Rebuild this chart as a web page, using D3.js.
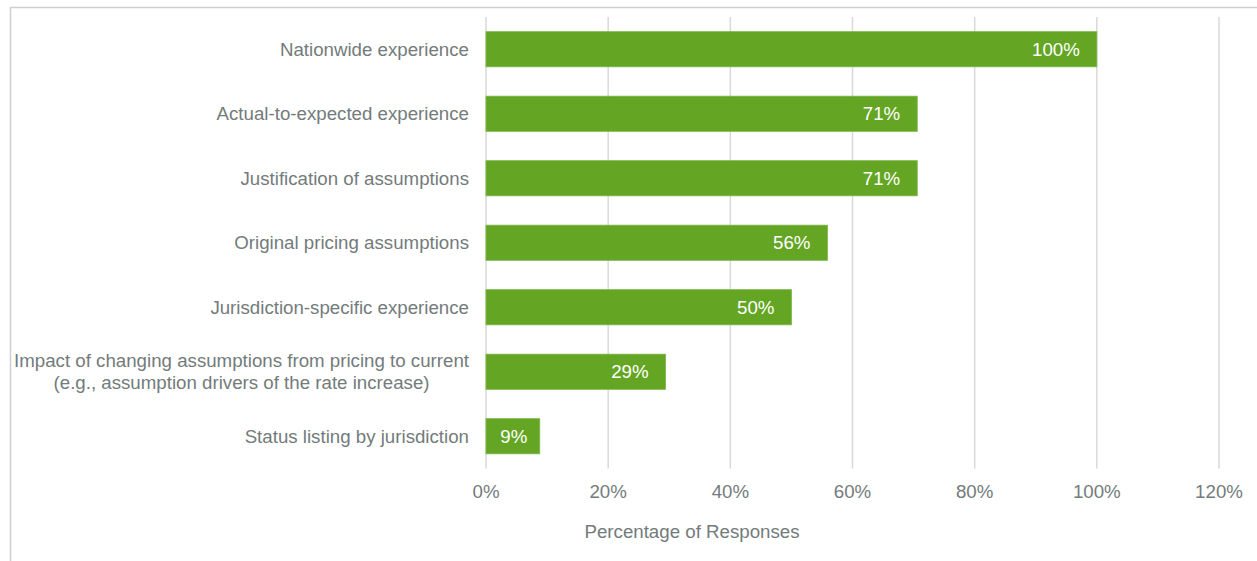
<!DOCTYPE html>
<html>
<head>
<meta charset="utf-8">
<script src="https://cdn.jsdelivr.net/npm/d3@7"></script>
<style>
  html, body { margin: 0; padding: 0; background: #fff; }
  svg { display: block; font-family: "Liberation Sans", Arial, sans-serif; }
</style>
</head>
<body>
<svg id="chart" width="1257" height="561"></svg>
<script>
// Share of responses (n = 34) by information item provided
const categories = [
  ["Nationwide experience"],
  ["Actual-to-expected experience"],
  ["Justification of assumptions"],
  ["Original pricing assumptions"],
  ["Jurisdiction-specific experience"],
  ["Impact of changing assumptions from pricing to current", "(e.g., assumption drivers of the rate increase)"],
  ["Status listing by jurisdiction"]
];
const values = [100, 70.6, 70.6, 55.9, 50, 29.4, 8.8];
const xTicks = [0, 20, 40, 60, 80, 100, 120];
const axisTitle = "Percentage of Responses";

const svg = d3.select("#chart");
const W = 1257, H = 561;
const textColor = "#737b7b";
const barColor = "#64a623";
const gridColor = "#d9d9d9";
const fontSize = 18.7;

// frame
svg.append("path")
  .attr("d", `M10.5,${H} V7.5 H${W}`)
  .attr("fill", "none").attr("stroke", "#cfcfcf").attr("stroke-width", 1.5);

const plot = { left: 486, right: 1219, top: 17, bottom: 468.5 };

const x = d3.scaleLinear().domain([0, 120]).range([plot.left, plot.right]);
const y = d3.scaleBand()
  .domain(d3.range(categories.length))
  .range([plot.top, plot.bottom])
  .paddingInner(0.455).paddingOuter(0.2275);

// vertical gridlines
svg.append("g").selectAll("line").data(xTicks).join("line")
  .attr("x1", d => x(d)).attr("x2", d => x(d))
  .attr("y1", plot.top).attr("y2", plot.bottom)
  .attr("stroke", gridColor).attr("stroke-width", 1.5);

// tick labels
svg.append("g").selectAll("text").data(xTicks).join("text")
  .attr("x", d => x(d)).attr("y", 498)
  .attr("text-anchor", "middle")
  .attr("font-size", fontSize).attr("fill", textColor)
  .text(d => d3.format(".0%")(d / 100));

// axis title
svg.append("text")
  .attr("x", 692).attr("y", 538)
  .attr("text-anchor", "middle")
  .attr("font-size", fontSize).attr("fill", textColor)
  .text(axisTitle);

// bars
svg.append("g").selectAll("rect").data(values).join("rect")
  .attr("x", x(0))
  .attr("y", (d, i) => y(i))
  .attr("width", d => x(d) - x(0))
  .attr("height", y.bandwidth())
  .attr("fill", barColor)
  .attr("stroke", "#7ab648").attr("stroke-width", 0.8);

// value labels: inside end, centred when the bar is too short
svg.append("g").selectAll("text").data(values).join("text")
  .attr("y", (d, i) => y(i) + y.bandwidth() / 2)
  .attr("dy", "0.35em")
  .attr("text-anchor", "end")
  .attr("font-size", fontSize).attr("fill", "#ffffff")
  .text(d => d3.format(".0%")(d / 100))
  .attr("x", function(d) {
    const w = this.getComputedTextLength();
    const end = x(d), mid = (x(0) + x(d)) / 2;
    return Math.max(end - 17, mid + w / 2 + 1);
  });

// category labels (multi-line labels are centred on one another)
const labelX = 469;
const lineH = 22;
categories.forEach((lines, i) => {
  const cy = y(i) + y.bandwidth() / 2;
  const g = svg.append("g");
  const first = g.append("text")
    .attr("x", labelX)
    .attr("y", cy - (lines.length - 1) * lineH / 2)
    .attr("dy", "0.35em")
    .attr("text-anchor", "end")
    .attr("font-size", fontSize).attr("fill", textColor)
    .text(lines[0]);
  if (lines.length > 1) {
    const w = first.node().getComputedTextLength();
    const cx = labelX - w / 2;
    first.attr("x", cx).attr("text-anchor", "middle");
    lines.slice(1).forEach((ln, k) => {
      g.append("text")
        .attr("x", cx)
        .attr("y", cy - (lines.length - 1) * lineH / 2 + (k + 1) * lineH)
        .attr("dy", "0.35em")
        .attr("text-anchor", "middle")
        .attr("font-size", fontSize).attr("fill", textColor)
        .text(ln);
    });
  }
});
</script>
</body>
</html>
